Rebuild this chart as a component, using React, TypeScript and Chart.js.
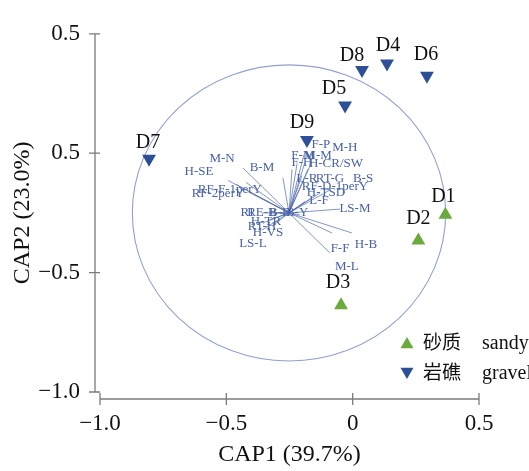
import React, { useEffect, useRef } from 'react';
import { Chart, registerables } from 'chart.js';

Chart.register(...registerables);

// samples (site scores on CAP1 / CAP2)
const sampleNames = ['D1', 'D2', 'D3', 'D4', 'D5', 'D6', 'D7', 'D8', 'D9'];
const sampleX = [0.367, 0.26, -0.046, 0.136, -0.03, 0.294, -0.806, 0.037, -0.181];
const sampleY = [-0.258, -0.366, -0.637, 0.376, 0.2, 0.324, -0.023, 0.348, 0.055];
const sampleHabitat = ['sandy', 'sandy', 'sandy', 'gravel', 'gravel', 'gravel', 'gravel', 'gravel', 'gravel'];

const habitatKeys = ['sandy', 'gravel'];
const habitatZh = ['砂质', '岩礁'];

// trait vectors (end points and label anchors, CAP units)
const vectorNames = [
  'M-N', 'H-SE', 'B-M', 'RF-F-1perY', 'RF-2perY',
  'F-P', 'M-H', 'F-M', 'M-M', 'F-H', 'H-CR/SW', 'L-R', 'RT-G',
  'B-S', 'RF-D-1perY', 'H-TSD', 'L-F', 'LS-M',
  'H-B', 'F-F', 'M-L',
  'LS-L', 'H-VS', 'H-TR', 'RT-H', 'RI', 'RE-B', 'B-B', 'B-Y',
];
const vectorEndX = [
  -0.422, -0.493, -0.434, -0.462, -0.406,
  -0.193, -0.161, -0.22, -0.189, -0.24, -0.177, -0.276, -0.201,
  -0.09, -0.129, -0.161, -0.189, -0.05,
  -0.003, -0.082, -0.09,
  -0.359, -0.319, -0.335, -0.351, -0.359, -0.327, -0.288, -0.209,
];
const vectorEndY = [
  -0.122, -0.114, -0.062, -0.13, -0.166,
  -0.007, -0.035, -0.043, -0.039, -0.067, -0.067, -0.103, -0.094,
  -0.154, -0.166, -0.186, -0.202, -0.234,
  -0.334, -0.334, -0.418,
  -0.322, -0.306, -0.282, -0.29, -0.25, -0.25, -0.254, -0.258,
];
const vectorLabelX = [
  -0.517, -0.608, -0.359, -0.486, -0.533,
  -0.126, -0.031, -0.197, -0.137, -0.201, -0.066, -0.181, -0.09,
  0.041, -0.07, -0.106, -0.133, 0.009,
  0.053, -0.05, -0.023,
  -0.395, -0.335, -0.343, -0.359, -0.418, -0.359, -0.288, -0.22,
];
const vectorLabelY = [
  -0.023, -0.075, -0.062, -0.154, -0.17,
  0.037, 0.025, -0.011, -0.011, -0.039, -0.043, -0.107, -0.107,
  -0.107, -0.138, -0.166, -0.198, -0.23,
  -0.382, -0.398, -0.473,
  -0.378, -0.334, -0.286, -0.306, -0.25, -0.25, -0.25, -0.25,
];
const vectorOrigin = [-0.252, -0.25];
const circleRadius = 0.62;

const tickValues = [-1, -0.5, 0, 0.5];
const xTickLabels = ['−1.0', '−0.5', '0', '0.5'];
const yTickLabels = ['−1.0', '−0.5', '0.5', '0.5'];

const GREEN = '#6aab3d';
const BLUE = '#2c4f95';
const TRAIT = '#4862a8';
const SERIF = '"Liberation Serif", "Times New Roman", serif';

// label nudges (px) for the sample names
const nameShift: Record<string, [number, number]> = {
  D1: [-2, -18], D2: [0, -22], D3: [-3, -23], D4: [1, -18], D5: [-11, -17],
  D6: [-1, -21], D7: [-1, -16], D8: [-10, -14], D9: [-5, -17],
};

const tickText = (labels: string[]) => (v: number | string) => {
  const i = tickValues.findIndex((t) => Math.abs(t - Number(v)) < 1e-9);
  return i >= 0 ? labels[i] : '';
};

function triangle(ctx: CanvasRenderingContext2D, x: number, y: number, r: number, down: boolean) {
  const s = down ? -1 : 1;
  ctx.beginPath();
  ctx.moveTo(x, y - s * r);
  ctx.lineTo(x + r * 0.866, y + s * r * 0.5);
  ctx.lineTo(x - r * 0.866, y + s * r * 0.5);
  ctx.closePath();
  ctx.fill();
}

const biplotPlugin = {
  id: 'biplot',
  beforeDatasetsDraw(chart: any) {
    const { ctx } = chart;
    const { x, y } = chart.scales;
    const cx = x.getPixelForValue(vectorOrigin[0]);
    const cy = y.getPixelForValue(vectorOrigin[1]);
    const rx = x.getPixelForValue(vectorOrigin[0] + circleRadius) - cx;
    const ry = cy - y.getPixelForValue(vectorOrigin[1] + circleRadius);
    ctx.save();
    ctx.strokeStyle = '#8ea1cf';
    ctx.lineWidth = 1.1;
    ctx.beginPath();
    ctx.ellipse(cx, cy, rx, ry, 0, 0, Math.PI * 2);
    ctx.stroke();

    ctx.fillStyle = TRAIT;
    ctx.font = `13px ${SERIF}`;
    ctx.textAlign = 'center';
    ctx.textBaseline = 'middle';
    vectorNames.forEach((n, i) => {
      ctx.fillText(n, x.getPixelForValue(vectorLabelX[i]), y.getPixelForValue(vectorLabelY[i]));
    });
    ctx.restore();
  },
  afterDraw(chart: any) {
    const { ctx, chartArea } = chart;
    const { x, y } = chart.scales;
    ctx.save();

    // detached axes with crossing ticks
    ctx.strokeStyle = '#7b7b7b';
    ctx.lineWidth = 1.3;
    const ax = chartArea.left - 5;
    const ay = chartArea.bottom + 7;
    ctx.beginPath();
    ctx.moveTo(ax, y.getPixelForValue(0.5));
    ctx.lineTo(ax, y.getPixelForValue(-1));
    tickValues.forEach((v) => {
      const py = y.getPixelForValue(v);
      ctx.moveTo(ax - 6, py);
      ctx.lineTo(ax + 5, py);
    });
    ctx.moveTo(x.getPixelForValue(-1), ay);
    ctx.lineTo(x.getPixelForValue(0.5), ay);
    tickValues.forEach((v) => {
      const px = x.getPixelForValue(v);
      ctx.moveTo(px, ay - 6);
      ctx.lineTo(px, ay + 6);
    });
    ctx.stroke();

    // sample names
    ctx.fillStyle = '#111';
    ctx.font = `20px ${SERIF}`;
    ctx.textAlign = 'center';
    ctx.textBaseline = 'middle';
    sampleNames.forEach((n, i) => {
      const [dx, dy] = nameShift[n] || [0, -20];
      ctx.fillText(n, x.getPixelForValue(sampleX[i]) + dx, y.getPixelForValue(sampleY[i]) + dy);
    });

    // legend
    const lx = chartArea.right - 72;
    const ly = chartArea.bottom - 49;
    habitatKeys.forEach((k, i) => {
      const rowY = ly + i * 30;
      ctx.fillStyle = i === 0 ? GREEN : BLUE;
      triangle(ctx, lx, rowY + (i === 0 ? 1.5 : -1.5), 7.5, i === 1);
      ctx.fillStyle = '#111';
      ctx.textAlign = 'left';
      ctx.font = `19px ${SERIF}, "Noto Sans CJK SC"`;
      ctx.fillText(habitatZh[i], lx + 16, rowY + 1);
      ctx.font = `20px ${SERIF}`;
      ctx.fillText(k, lx + 75, rowY + 1);
    });
    ctx.restore();
  },
};

export default function App() {
  const canvasRef = useRef<HTMLCanvasElement | null>(null);

  useEffect(() => {
    if (!canvasRef.current) return;

    const vectorData: { x: number; y: number | null }[] = [];
    vectorNames.forEach((_, i) => {
      vectorData.push({ x: vectorOrigin[0], y: vectorOrigin[1] });
      vectorData.push({ x: vectorEndX[i], y: vectorEndY[i] });
      vectorData.push({ x: vectorEndX[i], y: null });
    });

    const pointsFor = (habitat: string) =>
      sampleNames
        .map((_, i) => ({ x: sampleX[i], y: sampleY[i], h: sampleHabitat[i] }))
        .filter((p) => p.h === habitat)
        .map(({ x, y }) => ({ x, y }));

    const chart = new Chart(canvasRef.current, {
      type: 'scatter',
      data: {
        datasets: [
          {
            label: 'sandy',
            data: pointsFor('sandy'),
            pointStyle: 'triangle',
            pointRadius: 8,
            backgroundColor: GREEN,
            borderWidth: 0,
          },
          {
            label: 'gravel',
            data: pointsFor('gravel'),
            pointStyle: 'triangle',
            rotation: 180,
            pointRadius: 8,
            backgroundColor: BLUE,
            borderWidth: 0,
          },
          {
            label: 'traits',
            data: vectorData as any,
            showLine: true,
            spanGaps: false,
            pointRadius: 0,
            borderColor: 'rgba(72, 98, 168, 0.75)',
            borderWidth: 0.9,
          },
        ],
      },
      options: {
        animation: false,
        responsive: true,
        maintainAspectRatio: false,
        layout: { padding: { top: 16, right: 50, left: 0, bottom: 0 } },
        plugins: { legend: { display: false }, tooltip: { enabled: false } },
        scales: {
          x: {
            type: 'linear',
            min: -1,
            max: 0.5,
            grid: { display: false, drawTicks: false },
            border: { display: false },
            ticks: {
              stepSize: 0.5,
              padding: 18,
              color: '#111',
              font: { family: SERIF, size: 23 },
              callback: tickText(xTickLabels),
            },
            title: {
              display: true,
              text: 'CAP1 (39.7%)',
              color: '#111',
              font: { family: SERIF, size: 24 },
              padding: { top: 0, bottom: 2 },
            },
            afterFit: (s: any) => {
              s.height = 79;
            },
          },
          y: {
            type: 'linear',
            min: -1,
            max: 0.5,
            grid: { display: false, drawTicks: false },
            border: { display: false },
            ticks: {
              stepSize: 0.5,
              padding: 20,
              color: '#111',
              font: { family: SERIF, size: 23 },
              callback: tickText(yTickLabels),
            },
            title: {
              display: true,
              text: 'CAP2 (23.0%)',
              color: '#111',
              font: { family: SERIF, size: 24 },
              padding: { top: 8, bottom: 0 },
            },
            afterFit: (s: any) => {
              s.width = 100;
            },
          },
        },
      },
      plugins: [biplotPlugin],
    });

    return () => chart.destroy();
  }, []);

  return (
    <div style={{ position: 'fixed', left: 0, top: 0, width: 529, height: 471, background: '#fff' }}>
      <canvas ref={canvasRef} />
    </div>
  );
}
